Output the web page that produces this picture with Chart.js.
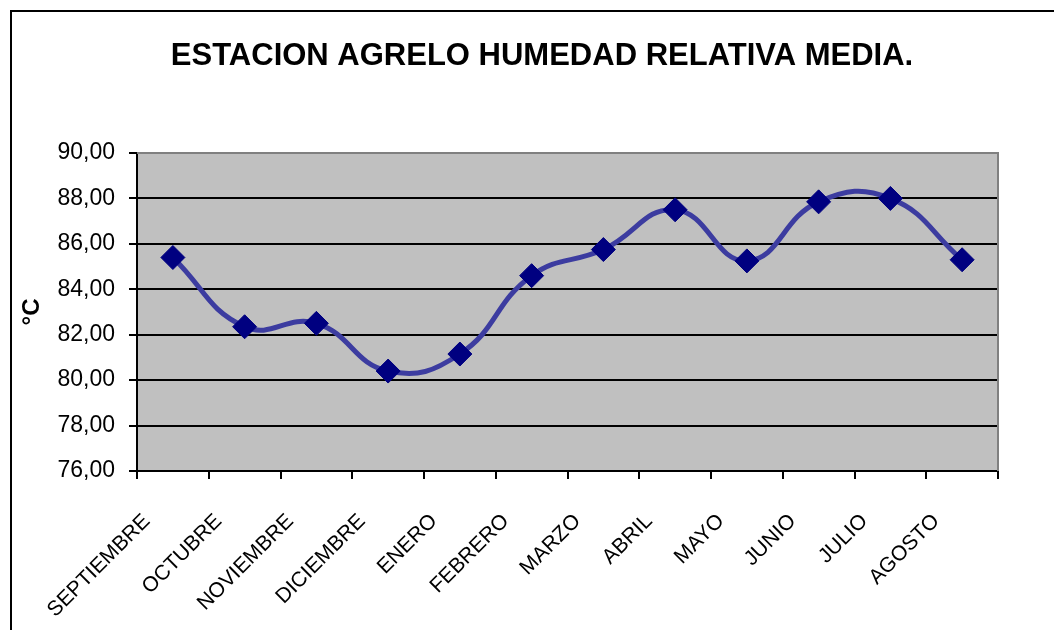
<!DOCTYPE html>
<html>
<head>
<meta charset="utf-8">
<script src="https://cdn.jsdelivr.net/npm/chart.js@4/dist/chart.umd.min.js"></script>
<style>
  html, body { margin: 0; padding: 0; background: #fff; }
  #wrap { width: 1054px; height: 630px; position: relative; }
</style>
</head>
<body>
<div id="wrap"><canvas id="humedadChart" width="1054" height="630"></canvas></div>
<script>
// Data
const months = ['SEPTIEMBRE', 'OCTUBRE', 'NOVIEMBRE', 'DICIEMBRE', 'ENERO', 'FEBRERO',
  'MARZO', 'ABRIL', 'MAYO', 'JUNIO', 'JULIO', 'AGOSTO'];
const humedad = [85.4, 82.35, 82.5, 80.4, 81.15, 84.6, 85.75, 87.5, 85.25, 87.85, 88.0, 85.3];
const yTicks = [76, 78, 80, 82, 84, 86, 88, 90];
const chartTitle = 'ESTACION AGRELO HUMEDAD RELATIVA MEDIA.';
const yTitle = '°C';

// background, outer border, plot fill and title
const framePlugin = {
  id: 'frame',
  beforeDraw(chart) {
    const ctx = chart.ctx;
    const a = chart.chartArea;
    ctx.save();
    ctx.fillStyle = '#fff';
    ctx.fillRect(0, 0, chart.width, chart.height);
    ctx.strokeStyle = '#000';
    ctx.lineWidth = 2;
    ctx.strokeRect(11, 11, 1200, 800);
    ctx.fillStyle = '#c0c0c0';
    ctx.fillRect(a.left, a.top, a.right - a.left, a.bottom - a.top);
    ctx.fillStyle = '#000';
    ctx.font = 'bold 31px "Liberation Sans", Arial, sans-serif';
    ctx.textAlign = 'center';
    ctx.textBaseline = 'middle';
    ctx.fillText(chartTitle, 542, 56);
    ctx.restore();
  },
  beforeDatasetsDraw(chart) {
    const ctx = chart.ctx;
    const a = chart.chartArea;
    ctx.save();
    ctx.strokeStyle = '#808080';
    ctx.lineWidth = 2;
    ctx.beginPath();
    ctx.moveTo(a.left, a.top);
    ctx.lineTo(a.right, a.top);
    ctx.lineTo(a.right, a.bottom);
    ctx.stroke();
    ctx.restore();
  }
};

const ctx = document.getElementById('humedadChart');
new Chart(ctx, {
  type: 'line',
  data: {
    labels: months,
    datasets: [{
      data: humedad,
      borderColor: '#3c3ca0',
      borderWidth: 5,
      tension: 0.45,
      fill: false,
      pointStyle: 'rectRot',
      pointRadius: 12,
      pointHoverRadius: 12,
      pointBackgroundColor: '#000080',
      pointBorderColor: '#000080',
      pointBorderWidth: 1
    }]
  },
  options: {
    responsive: false,
    animation: false,
    devicePixelRatio: 1,
    layout: {
      padding: { left: 12, right: 56, top: 153, bottom: 0 }
    },
    plugins: {
      legend: { display: false },
      tooltip: { enabled: false },
      title: { display: false }
    },
    scales: {
      x: {
        offset: true,
        afterFit(scale) { scale.height = 159; },
        grid: {
          offset: true,
          drawOnChartArea: false,
          drawTicks: true,
          tickLength: 8,
          color: '#000',
          lineWidth: 2
        },
        border: { color: '#000', width: 2 },
        ticks: {
          autoSkip: false,
          minRotation: 45,
          maxRotation: 45,
          labelOffset: -26,
          padding: 30,
          color: '#000',
          font: { family: '"Liberation Sans", Arial, sans-serif', size: 21 }
        }
      },
      y: {
        min: 76,
        max: 90,
        afterFit(scale) { scale.width = 125; },
        afterBuildTicks(scale) {
          scale.ticks = yTicks.map(v => ({ value: v }));
        },
        title: {
          display: true,
          text: yTitle,
          color: '#000',
          padding: { top: 6, bottom: 0 },
          font: { family: '"Liberation Sans", Arial, sans-serif', size: 24, weight: 'bold' }
        },
        grid: {
          tickLength: 8,
          lineWidth: 2,
          color: (c) => (c.tick && c.tick.value === 90 ? '#808080' : '#000'),
          tickColor: '#000'
        },
        border: { color: '#000', width: 2 },
        ticks: {
          padding: 14,
          color: '#000',
          font: { family: '"Liberation Sans", Arial, sans-serif', size: 23 },
          callback: (v) => Number(v).toFixed(2).replace('.', ',')
        }
      }
    }
  },
  plugins: [framePlugin]
});
</script>
</body>
</html>
